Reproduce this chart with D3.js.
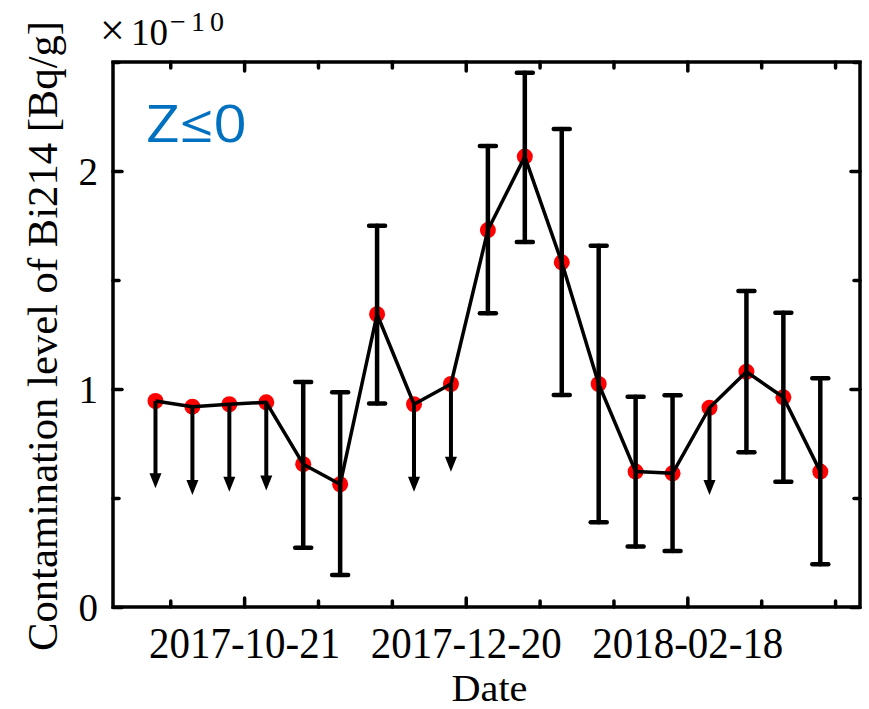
<!DOCTYPE html>
<html>
<head>
<meta charset="utf-8">
<script src="https://cdn.jsdelivr.net/npm/d3@7"></script>
<style>
  body { margin: 0; background: #fff; }
  svg { display: block; }
</style>
</head>
<body>
<svg width="869" height="709"></svg>
<script>
// values, in units of 1e-10 Bq/g
const dates = ["2017-09-27", "2017-10-07", "2017-10-17", "2017-10-27", "2017-11-06",
               "2017-11-16", "2017-11-26", "2017-12-06", "2017-12-16", "2017-12-26",
               "2018-01-05", "2018-01-15", "2018-01-25", "2018-02-04", "2018-02-14",
               "2018-02-24", "2018-03-06", "2018-03-16", "2018-03-26"];
const level = [0.945, 0.919, 0.930, 0.939, 0.655, 0.563, 1.343, 0.930, 1.023, 1.729,
               2.066, 1.581, 1.023, 0.621, 0.613, 0.914, 1.079, 0.962, 0.621];
// error bar ends (null where the point is only an upper limit)
const errLow  = [null, null, null, null, 0.272, 0.147, 0.934, null, null, 1.347,
                 1.674, 0.972, 0.389, 0.277, 0.257, null, 0.710, 0.575, 0.196];
const errHigh = [null, null, null, null, 1.032, 0.985, 1.749, null, null, 2.115,
                 2.451, 2.193, 1.657, 0.965, 0.971, null, 1.450, 1.350, 1.049];
// where the downward arrow of an upper limit ends
const limitTip = [0.545, 0.514, 0.529, 0.534, null, null, null, 0.529, 0.620, null,
                  null, null, null, null, null, 0.514, null, null, null];

const xMajor = ["2017-10-21", "2017-12-20", "2018-02-18"];
const xMinor = ["2017-10-01", "2017-11-10", "2017-11-30", "2018-01-09", "2018-01-29",
                "2018-03-10", "2018-03-30"];
const yMajor = [0, 1, 2];
const yMinor = [0.5, 1.5, 2.5];

const svg = d3.select('svg');
const plotL = 113, plotR = 860, plotT = 62, plotB = 607;
const parse = d3.timeParse('%Y-%m-%d');
const serif = '"Liberation Serif", "Times New Roman", serif';

const data = dates.map((d, i) => ({
    date: parse(d), v: level[i], lo: errLow[i], hi: errHigh[i], tip: limitTip[i]
}));

// time axis runs from mid Sep 2017 to early Apr 2018
const x = d3.scaleTime()
    .domain([new Date(2017, 8, 15, 12), new Date(2018, 3, 5, 18)])
    .range([plotL, plotR]);
const y = d3.scaleLinear()
    .domain([0, 2.5])
    .range([plotB, plotT]);

// ticks point inwards on all four sides, longer on major values
function styleAxis(g) {
    g.select('.domain').remove();
    g.selectAll('.tick line').attr('stroke', '#000').attr('stroke-width', 3.5).attr('stroke-linecap', 'round');
}

const xM = xMajor.map(parse), xm = xMinor.map(parse);

svg.append('g').attr('transform', `translate(0,${plotB})`)
    .call(d3.axisBottom(x).tickValues(xm).tickSize(-6).tickFormat('')).call(styleAxis);
svg.append('g').attr('transform', `translate(0,${plotT})`)
    .call(d3.axisTop(x).tickValues(xm).tickSize(-6).tickFormat('')).call(styleAxis);
svg.append('g').attr('transform', `translate(0,${plotT})`)
    .call(d3.axisTop(x).tickValues(xM).tickSize(-9).tickFormat('')).call(styleAxis);
const xAxis = svg.append('g').attr('transform', `translate(0,${plotB})`)
    .call(d3.axisBottom(x).tickValues(xM).tickSize(-9).tickFormat(d3.timeFormat('%Y-%m-%d')))
    .call(styleAxis);
// tall, narrow serif labels like the original
xAxis.selectAll('text')
    .attr('y', 51).attr('dy', 0)
    .attr('textLength', 191).attr('lengthAdjust', 'spacingAndGlyphs')
    .style('font-family', serif).style('font-size', '44px').attr('fill', '#000');

svg.append('g').attr('transform', `translate(${plotL},0)`)
    .call(d3.axisLeft(y).tickValues(yMinor).tickSize(-6).tickFormat('')).call(styleAxis);
svg.append('g').attr('transform', `translate(${plotR},0)`)
    .call(d3.axisRight(y).tickValues(yMinor).tickSize(-6).tickFormat('')).call(styleAxis);
svg.append('g').attr('transform', `translate(${plotR},0)`)
    .call(d3.axisRight(y).tickValues(yMajor).tickSize(-9).tickFormat('')).call(styleAxis);
const yAxis = svg.append('g').attr('transform', `translate(${plotL},0)`)
    .call(d3.axisLeft(y).tickValues(yMajor).tickSize(-9).tickFormat(d3.format('d')))
    .call(styleAxis);
yAxis.selectAll('text')
    .attr('x', -15).attr('dy', '0.34em')
    .style('font-family', serif).style('font-size', '39px').attr('fill', '#000');

// box round the plot
svg.append('rect')
    .attr('x', plotL).attr('y', plotT)
    .attr('width', plotR - plotL).attr('height', plotB - plotT)
    .attr('fill', 'none').attr('stroke', '#000').attr('stroke-width', 3.5);

// red markers first, line and bars drawn over them
svg.selectAll('circle')
    .data(data)
    .enter()
    .append('circle')
        .attr('cx', d => x(d.date))
        .attr('cy', d => y(d.v))
        .attr('r', 8)
        .attr('fill', '#ff0000');

svg.append('path')
    .datum(data)
    .attr('d', d3.line().x(d => x(d.date)).y(d => y(d.v)))
    .attr('fill', 'none')
    .attr('stroke', '#000')
    .attr('stroke-width', 3.5)
    .attr('stroke-linejoin', 'round');

const bars = data.filter(d => d.lo !== null);
const barG = svg.append('g').attr('stroke', '#000').attr('stroke-linecap', 'round');
barG.selectAll('line.stem')
    .data(bars)
    .enter()
    .append('line')
        .attr('class', 'stem')
        .attr('x1', d => x(d.date)).attr('x2', d => x(d.date))
        .attr('y1', d => y(d.lo)).attr('y2', d => y(d.hi))
        .attr('stroke-width', 4.5);
// caps at both ends
['lo', 'hi'].forEach(k => {
    barG.selectAll('line.cap-' + k)
        .data(bars)
        .enter()
        .append('line')
            .attr('class', 'cap-' + k)
            .attr('x1', d => x(d.date) - 8).attr('x2', d => x(d.date) + 8)
            .attr('y1', d => y(d[k])).attr('y2', d => y(d[k]))
            .attr('stroke-width', 4.5);
});

// upper limits: arrow down from the point
const limits = data.filter(d => d.tip !== null);
const headH = 15, headW = 6;
svg.selectAll('line.limit')
    .data(limits)
    .enter()
    .append('line')
        .attr('class', 'limit')
        .attr('x1', d => x(d.date)).attr('x2', d => x(d.date))
        .attr('y1', d => y(d.v)).attr('y2', d => y(d.tip) - headH + 2)
        .attr('stroke', '#000').attr('stroke-width', 4);
svg.selectAll('path.head')
    .data(limits)
    .enter()
    .append('path')
        .attr('class', 'head')
        .attr('d', d => {
            const cx = x(d.date), ty = y(d.tip);
            return `M${cx - headW},${ty - headH}L${cx + headW},${ty - headH}L${cx},${ty}Z`;
        })
        .attr('fill', '#000');

// text
svg.append('text')
    .attr('transform', 'translate(57,336) rotate(-90)')
    .attr('text-anchor', 'middle')
    .attr('textLength', 630).attr('lengthAdjust', 'spacingAndGlyphs')
    .style('font-family', serif).style('font-size', '42px')
    .text('Contamination level of Bi214 [Bq/g]');

svg.append('text')
    .attr('x', (plotL + plotR) / 2 + 3).attr('y', 701)
    .attr('text-anchor', 'middle')
    .attr('textLength', 76).attr('lengthAdjust', 'spacingAndGlyphs')
    .style('font-family', serif).style('font-size', '37px')
    .text('Date');

// exponent label above the axis
svg.append('text').attr('x', 100).attr('y', 45)
    .style('font-family', serif).style('font-size', '44px').text('×');
svg.append('text').attr('x', 131).attr('y', 45)
    .style('font-family', serif).style('font-size', '37px').text('10');
svg.append('text').attr('x', 170).attr('y', 31)
    .attr('textLength', 54).attr('lengthAdjust', 'spacing')
    .style('font-family', serif).style('font-size', '28px').text('−10');

svg.append('text')
    .attr('x', 146).attr('y', 142)
    .attr('textLength', 101).attr('lengthAdjust', 'spacingAndGlyphs')
    .style('font-family', '"Open Sans", "Noto Sans", sans-serif').style('font-size', '52px')
    .attr('fill', '#0070C0')
    .text('Z≤0');
</script>
</body>
</html>
